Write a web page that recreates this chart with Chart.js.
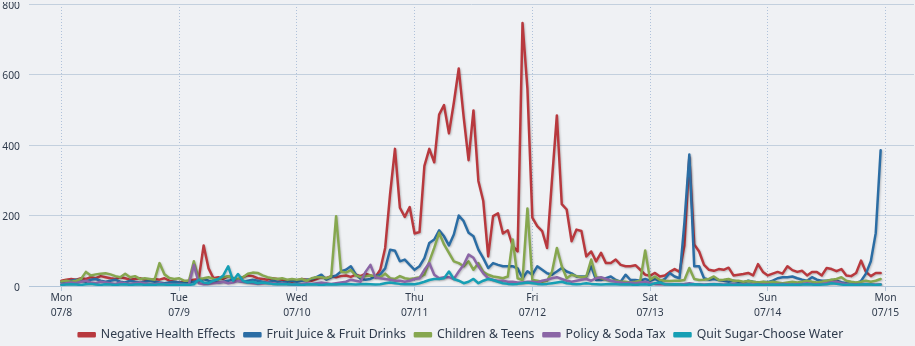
<!DOCTYPE html>
<html>
<head>
<meta charset="utf-8">
<script src="https://cdn.jsdelivr.net/npm/chart.js@4"></script>
<style>
  html, body { margin: 0; padding: 0; background: #eff1f4; }
  #wrap { width: 915px; height: 346px; position: relative; }
</style>
</head>
<body>
<div id="wrap"><canvas id="trendChart"></canvas></div>
<script>
// 시간별 언급량 (07/8 00시 ~ 07/14 23시)
const dayNames = ['Mon', 'Tue', 'Wed', 'Thu', 'Fri', 'Sat', 'Sun', 'Mon'];
const dayDates = ['07/8', '07/9', '07/10', '07/11', '07/12', '07/13', '07/14', '07/15'];
const yTicks = [0, 200, 400, 600, 800];

const negativeHealth = [
  15, 18, 20, 18, 22, 20, 25, 22, 28, 25, 22, 20, 25, 22, 18, 20, 22, 18, 15, 20, 18, 22, 15, 12,
  10, 12, 15, 18, 20, 115, 50, 22, 25, 20, 28, 22, 18, 25, 30, 28, 22, 20, 18, 22, 20, 18, 15, 12,
  15, 20, 18, 15, 20, 25, 22, 28, 25, 28, 30, 26, 32, 28, 35, 30, 25, 46, 108, 260, 389, 222, 196, 224,
  149, 153, 341, 389, 351, 486, 513, 433, 520, 617, 480, 357, 498, 298, 241, 84, 198, 206, 149, 158, 113, 98, 746, 560,
  194, 170, 156, 108, 300, 484, 232, 217, 127, 160, 156, 84, 98, 70, 94, 65, 65, 75, 60, 56, 56, 59, 46, 32,
  29, 37, 27, 30, 40, 48, 40, 115, 365, 118, 98, 60, 46, 43, 48, 46, 52, 30, 32, 34, 37, 30, 62, 40,
  30, 35, 40, 35, 56, 45, 40, 43, 30, 40, 40, 30, 51, 48, 42, 48, 30, 28, 37, 72, 40, 28, 37, 37
];
const fruitJuice = [
  10, 12, 15, 18, 15, 12, 18, 20, 15, 12, 15, 18, 12, 10, 15, 12, 10, 12, 15, 12, 10, 8, 10, 12,
  10, 8, 10, 12, 15, 20, 15, 12, 10, 12, 15, 18, 15, 12, 15, 18, 15, 12, 10, 15, 12, 10, 12, 15,
  12, 15, 18, 20, 25, 32, 18, 25, 30, 41, 46, 56, 33, 20, 18, 20, 27, 33, 50, 103, 100, 70, 75, 60,
  46, 56, 79, 122, 132, 158, 141, 115, 146, 200, 184, 151, 141, 103, 79, 51, 65, 60, 56, 56, 56, 50, 22, 42,
  32, 56, 46, 36, 32, 41, 51, 41, 36, 27, 27, 27, 56, 17, 17, 22, 27, 17, 12, 32, 17, 17, 15, 20,
  15, 20, 12, 20, 37, 27, 22, 180, 373, 56, 56, 22, 18, 20, 17, 15, 12, 15, 12, 10, 15, 12, 10, 11,
  11, 15, 22, 25, 25, 27, 22, 18, 15, 25, 18, 15, 15, 17, 15, 11, 8, 6, 8, 14, 35, 70, 150, 385
];
const childrenTeens = [
  13, 15, 12, 15, 20, 40, 30, 33, 35, 36, 33, 28, 25, 35, 25, 28, 20, 22, 20, 18, 65, 33, 23, 20,
  22, 15, 15, 70, 20, 22, 25, 20, 18, 25, 28, 22, 20, 25, 35, 38, 37, 30, 25, 22, 20, 22, 18, 20,
  18, 20, 15, 22, 25, 25, 22, 27, 198, 41, 38, 45, 30, 25, 28, 30, 28, 25, 35, 22, 20, 28, 22, 20,
  22, 25, 32, 70, 108, 151, 118, 94, 70, 65, 56, 70, 46, 65, 40, 32, 27, 25, 22, 27, 132, 22, 17, 220,
  17, 15, 12, 15, 40, 108, 56, 22, 32, 28, 25, 27, 75, 25, 22, 18, 15, 15, 12, 12, 10, 12, 15, 101,
  18, 27, 17, 15, 14, 15, 15, 17, 51, 20, 17, 18, 20, 27, 17, 18, 20, 15, 15, 12, 14, 12, 10, 12,
  10, 12, 10, 8, 10, 12, 10, 12, 15, 12, 10, 12, 15, 18, 20, 25, 15, 12, 10, 12, 15, 12, 15, 20
];
const policySodaTax = [
  5, 8, 10, 8, 12, 15, 10, 8, 12, 10, 8, 6, 10, 8, 6, 8, 10, 8, 6, 5, 8, 6, 5, 5,
  5, 4, 5, 60, 8, 5, 6, 8, 10, 12, 8, 10, 15, 12, 10, 8, 6, 8, 10, 8, 6, 8, 6, 5,
  5, 6, 8, 6, 8, 10, 8, 6, 8, 10, 12, 18, 15, 12, 40, 60, 25, 22, 20, 18, 15, 15, 12, 15,
  20, 22, 46, 65, 32, 22, 25, 25, 20, 41, 60, 89, 80, 56, 36, 22, 17, 15, 15, 12, 12, 10, 10, 12,
  12, 10, 15, 18, 22, 25, 20, 15, 12, 15, 18, 20, 15, 22, 25, 20, 15, 12, 10, 8, 10, 8, 10, 12,
  8, 6, 5, 6, 5, 4, 5, 6, 8, 6, 5, 4, 5, 6, 5, 4, 5, 6, 5, 4, 5, 4, 5, 4,
  5, 4, 5, 6, 5, 4, 5, 6, 8, 6, 5, 6, 8, 10, 12, 8, 6, 5, 4, 5, 6, 5, 4, 5
];
const quitSugar = [
  3, 4, 5, 4, 3, 5, 6, 4, 3, 5, 4, 3, 4, 5, 3, 4, 5, 3, 4, 3, 5, 4, 3, 4,
  3, 4, 3, 5, 18, 10, 8, 15, 20, 30, 56, 15, 34, 15, 10, 12, 8, 10, 8, 6, 5, 6, 5, 4,
  4, 3, 4, 5, 4, 3, 4, 5, 4, 5, 6, 5, 4, 5, 6, 5, 4, 5, 8, 10, 8, 6, 5, 6,
  5, 8, 12, 17, 20, 20, 22, 41, 20, 15, 8, 12, 20, 8, 15, 20, 17, 12, 8, 6, 5, 6, 8, 10,
  8, 6, 5, 6, 8, 10, 12, 8, 6, 5, 6, 8, 6, 5, 4, 5, 6, 5, 4, 5, 4, 3, 4, 5,
  3, 8, 10, 5, 4, 5, 4, 3, 4, 5, 4, 3, 4, 5, 4, 3, 4, 3, 4, 3, 4, 3, 4, 3,
  3, 4, 3, 4, 3, 4, 3, 4, 5, 4, 3, 4, 5, 8, 6, 4, 3, 4, 3, 4, 5, 4, 3, 4
];

const seriesNames = ['Negative Health Effects', 'Fruit Juice & Fruit Drinks', 'Children & Teens', 'Policy & Soda Tax', 'Quit Sugar-Choose Water'];
const seriesColors = ['#b8393e', '#2b6da4', '#86a74f', '#8b66a6', '#169fb4'];
const seriesValues = [negativeHealth, fruitJuice, childrenTeens, policySodaTax, quitSugar];

const textColor = '#2f3b4c';
const font = 'Noto Sans';

// 선 그림자 (하이차트 느낌)
const lineShadow = {
  id: 'lineShadow',
  beforeDatasetDraw(chart) {
    const ctx = chart.ctx;
    ctx.save();
    ctx.shadowColor = 'rgba(0,0,0,0.22)';
    ctx.shadowBlur = 2;
    ctx.shadowOffsetX = 1;
    ctx.shadowOffsetY = 1;
  },
  afterDatasetDraw(chart) {
    chart.ctx.restore();
  }
};

// 범례 위치 살짝 조정
const legendShift = {
  id: 'legendShift',
  beforeInit(chart) {
    const legend = chart.legend;
    const fit = legend.fit;
    const draw = legend.draw;
    legend.fit = function () {
      fit.bind(legend)();
      this.height -= 4;
    };
    legend.draw = function () {
      const ctx = chart.ctx;
      ctx.save();
      ctx.translate(4, 1);
      draw.bind(legend)();
      ctx.restore();
    };
  }
};

// y축 라벨 2px 아래로
function shiftYLabels(scale) {
  if (scale._labelShifted) return;
  const drawLabels = scale.drawLabels;
  scale.drawLabels = function (area) {
    this.ctx.save();
    this.ctx.translate(0, 2);
    drawLabels.call(this, area);
    this.ctx.restore();
  };
  scale._labelShifted = true;
}

const datasets = seriesNames.map((name, i) => ({
  label: name,
  data: seriesValues[i].map((v, h) => ({ x: h, y: v })),
  borderColor: seriesColors[i],
  backgroundColor: seriesColors[i],
  borderWidth: 2.5,
  pointRadius: 0,
  tension: 0,
  fill: false,
  borderJoinStyle: 'round',
  borderCapStyle: 'round',
  order: seriesNames.length - i
}));

new Chart(document.getElementById('trendChart'), {
  type: 'line',
  data: { datasets },
  plugins: [lineShadow, legendShift],
  options: {
    responsive: true,
    maintainAspectRatio: false,
    animation: false,
    layout: { padding: { top: 4, right: 1, left: 0, bottom: 0 } },
    scales: {
      x: {
        type: 'linear',
        min: -6.6,
        max: 173.8,
        afterBuildTicks: scale => {
          scale.ticks = dayNames.map((d, i) => ({ value: i * 24 }));
        },
        afterFit: scale => { scale.height = 32.7; },
        ticks: {
          color: textColor,
          font: { family: font, size: 10.3, lineHeight: 1.45 },
          padding: 0,
          maxRotation: 0,
          autoSkip: false,
          callback: value => [dayNames[value / 24], dayDates[value / 24]]
        },
        grid: {
          color: '#b0c2da',
          lineWidth: 1,
          drawTicks: true,
          tickLength: 5,
          tickColor: '#b4c6d9',
          tickBorderDash: []
        },
        border: { display: true, color: '#b4c6d9', width: 1, dash: [1, 2] }
      },
      y: {
        min: 0,
        max: 800,
        afterBuildTicks: scale => {
          scale.ticks = yTicks.map(v => ({ value: v }));
        },
        afterFit: scale => {
          scale.width = 29;
          scale.paddingTop = 0;
          scale.paddingBottom = 0;
          shiftYLabels(scale);
        },
        ticks: {
          color: textColor,
          font: { family: font, size: 10.3 },
          padding: 9
        },
        grid: { color: '#c3d0de', lineWidth: 1, drawTicks: false },
        border: { display: false }
      }
    },
    plugins: {
      legend: {
        position: 'bottom',
        labels: {
          color: textColor,
          font: { family: font, size: 12.3 },
          boxWidth: 16,
          boxHeight: 3,
          padding: 9,
          sort: (a, b) => a.datasetIndex - b.datasetIndex
        }
      },
      tooltip: { enabled: false }
    }
  }
});
</script>
</body>
</html>
